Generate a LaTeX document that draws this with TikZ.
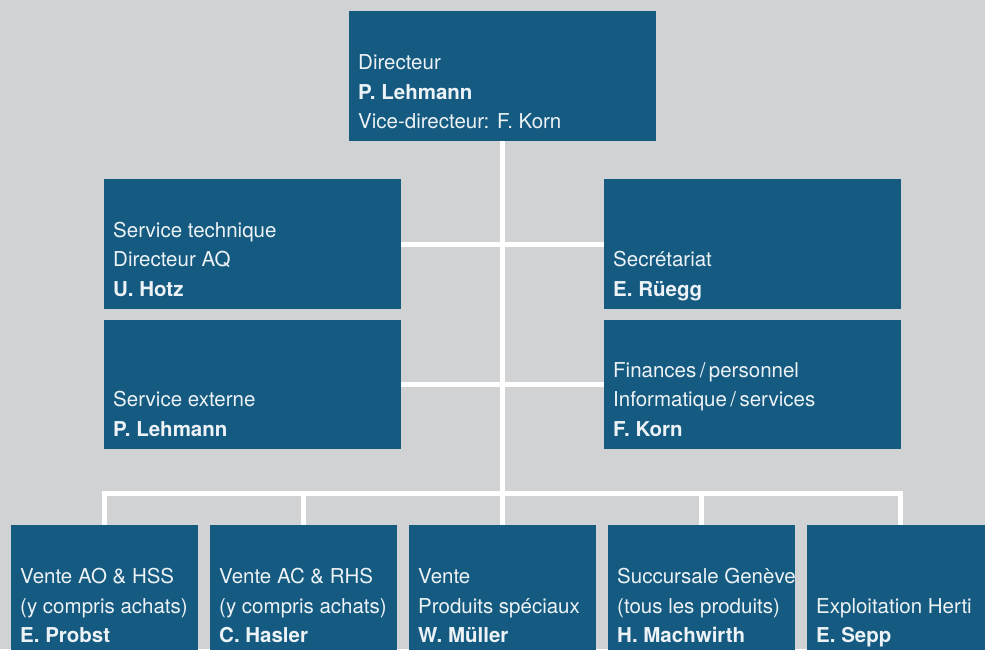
\documentclass[tikz,border=0pt]{standalone}
\usepackage{fontspec}
\setmainfont{TeX Gyre Heros}
\definecolor{fond}{RGB}{209,210,212}
\definecolor{bleu}{RGB}{21,90,128}
\newcommand{\poste}[2]{\begin{tabular}[b]{@{}l@{}}
  #1 \\
  \textbf{#2}
\end{tabular}}

\begin{document}
\begin{tikzpicture}[x=1pt, y=-1pt,
    boite/.style={fill=bleu, anchor=north west, inner sep=0pt, minimum height=130pt},
    texte/.style={anchor=base west, inner sep=0pt, text=white!92!bleu,
      font=\fontsize{20.5}{29.5}\selectfont},
    ligne/.style={draw=white, line width=5pt}]
    \useasboundingbox (0,0) rectangle (985,649);
    \clip (0,0) rectangle (985,649);
    \fill[fond] (0,0) rectangle (985,649);
    % direction
    \node[boite, minimum width=307pt] (dir) at (349,11) {};
    % services
    \node[boite, minimum width=297pt] (tech) at (104,179) {};
    \node[boite, minimum width=297pt] (sec) at (604,179) {};
    \node[boite, minimum width=297pt, minimum height=129pt] (ext) at (104,320) {};
    \node[boite, minimum width=297pt, minimum height=129pt] (fin) at (604,320) {};
    % vente
    \node[boite, minimum width=187pt] (v1) at (11,525) {};
    \node[boite, minimum width=187pt] (v2) at (210,525) {};
    \node[boite, minimum width=187pt] (v3) at (409,525) {};
    \node[boite, minimum width=187pt] (v4) at (608,525) {};
    \node[boite, minimum width=187pt] (v5) at (807,525) {};

    \coordinate (bus) at (503,493.5);
    \draw[ligne] (dir.south) -- (v3.north);
    \draw[ligne] (tech.east) -- (sec.west);
    \draw[ligne] (ext.east) -- (fin.west);
    \draw[ligne] (v1.north) -- (v1.north |- bus) -| (v5.north);
    \draw[ligne] (v2.north) -- (v2.north |- bus);
    \draw[ligne] (v4.north) -- (v4.north |- bus);

    \node[texte] (tdir) at ([shift={(9,-12.5)}]dir.south west) {\begin{tabular}[b]{@{}l@{}}
      Directeur \\
      \textbf{P. Lehmann} \\
      Vice-directeur: F. Korn
    \end{tabular}};
    \node[texte] (ttech) at ([shift={(9,-13)}]tech.south west) {\poste{Service technique \\ Directeur AQ}{U. Hotz}};
    \node[texte] (tsec) at ([shift={(9,-13)}]sec.south west) {\poste{Secrétariat}{E. Rüegg}};
    \node[texte] (text) at ([shift={(9,-13)}]ext.south west) {\poste{Service externe}{P. Lehmann}};
    \node[texte] (tfin) at ([shift={(9,-13)}]fin.south west) {\poste{Finances\,/\,personnel \\ Informatique\,/\,services}{F. Korn}};
    \node[texte] (tv1) at ([shift={(9,-12.5)}]v1.south west) {\poste{Vente AO \& HSS \\ (y compris achats)}{E. Probst}};
    \node[texte] (tv2) at ([shift={(9,-12.5)}]v2.south west) {\poste{Vente AC \& RHS \\ (y compris achats)}{C. Hasler}};
    \node[texte] (tv3) at ([shift={(9,-12.5)}]v3.south west) {\poste{Vente \\ Produits spéciaux}{W. Müller}};
    \node[texte] (tv4) at ([shift={(9,-12.5)}]v4.south west) {\poste{Succursale Genève \\ (tous les produits)}{H. Machwirth}};
    \node[texte] (tv5) at ([shift={(9,-12.5)}]v5.south west) {\poste{Exploitation Herti}{E. Sepp}};
  \end{tikzpicture}
\end{document}
